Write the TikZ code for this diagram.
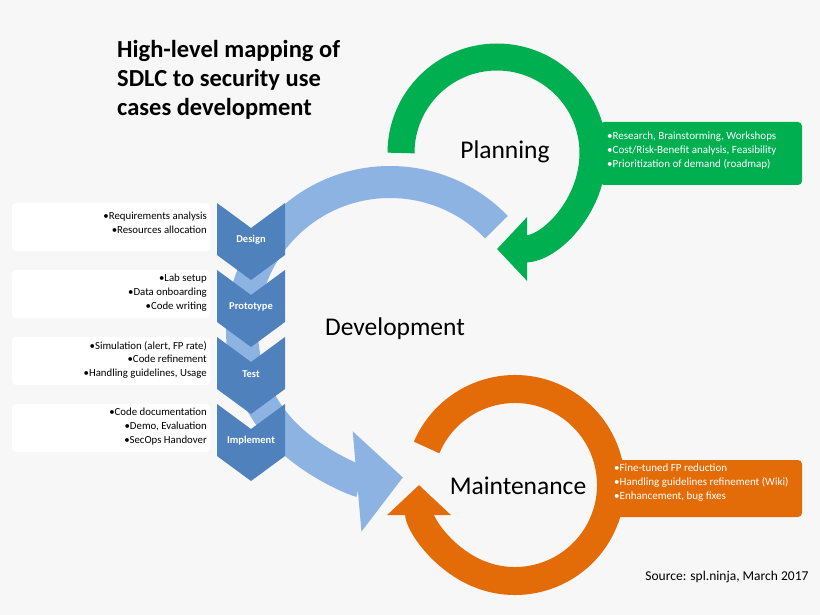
\documentclass[tikz,border=0pt]{standalone}
\usepackage{fontspec}
\setmainfont{Carlito}
\usetikzlibrary{arrows.meta}
\definecolor{bgGray}{HTML}{F7F7F7}
\definecolor{devBlue}{HTML}{8DB3E2}
\definecolor{stepBlue}{HTML}{4F81BD}
\definecolor{planGreen}{HTML}{00B050}
\definecolor{maintOrange}{HTML}{E36C09}
\tikzset{
  ring/.style = {line width=#1},
  note/.style = {rounded corners=4pt, fill=white},
  notetext/.style = {align=right, anchor=north east, font=\fontsize{10.8}{13.8}\selectfont, inner sep=0pt},
  steplabel/.style = {text=white, font=\fontsize{10.5}{12}\selectfont\bfseries},
  cardtext/.style = {align=left, anchor=north west, text=white, font=\fontsize{11}{13.8}\selectfont, inner sep=0pt},
  phase/.style = {font=\fontsize{25.5}{30}\selectfont},
}
\newcommand{\chev}[2]{% top y, name
  \fill[stepBlue] (217,#1) -- (251,#1+25) -- (285,#1) -- (285,#1+52) -- (251,#1+77) -- (217,#1+52) -- cycle;
  \coordinate (#2) at (251,#1+37);
}
\begin{document}
\begin{tikzpicture}[x=1pt,y=-1pt]
\fill[bgGray] (0,0) rectangle (820,615);
\useasboundingbox (0,0) rectangle (820,615);

% development ring
\coordinate (devC) at (390,330);
\draw[devBlue, ring=32, -{Triangle[width=98pt,length=46pt]}]
  (devC) ++(-44:148) arc[start angle=-44, end angle=-275, radius=148];

% steps
\chev{203}{design}
\chev{270}{proto}
\chev{337}{test}
\chev{404}{impl}
\node[steplabel] at (design) {Design};
\node[steplabel] at (proto) {Prototype};
\node[steplabel] at (test) {Test};
\node[steplabel] at (impl) {Implement};

% planning ring
\coordinate (planC) at (497,153);
\draw[planGreen, ring=27, -{Triangle[width=62pt,length=30pt]}]
  (planC) ++(-180:96) arc[start angle=-180, end angle=90, radius=96];
% maintenance ring
\coordinate (maintC) at (515,485);
\draw[maintOrange, ring=28, -{Triangle[width=62pt,length=30pt]}]
  (maintC) ++(-157:96) arc[start angle=-157, end angle=180, radius=96];

% cards
\fill[planGreen, rounded corners=4pt] (600,122) rectangle (802,185);
\node[cardtext] (planCard) at (607,132) {•Research, Brainstorming, Workshops\\•Cost/Risk-Benefit analysis, Feasibility\\•Prioritization of demand (roadmap)};
\fill[maintOrange, rounded corners=4pt] (608,460) rectangle (802,517);
\node[cardtext] (maintCard) at (614,464) {•Fine-tuned FP reduction\\•Handling guidelines refinement (Wiki)\\•Enhancement, bug fixes};

% notes
\fill[note] (12,203) rectangle (210,251);
\node[notetext] (designNote) at (207,212) {•Requirements analysis\\•Resources allocation};
\fill[note] (12,270) rectangle (210,318);
\node[notetext] (protoNote) at (207,274) {•Lab setup\\•Data onboarding\\•Code writing};
\fill[note] (12,337) rectangle (210,385);
\node[notetext] (testNote) at (207,341) {•Simulation (alert, FP rate)\\•Code refinement\\•Handling guidelines, Usage};
\fill[note] (12,404) rectangle (210,452);
\node[notetext] (implNote) at (207,408) {•Code documentation\\•Demo, Evaluation\\•SecOps Handover};

% titles
\node[align=left, anchor=north west, inner sep=0pt, font=\fontsize{24.5}{29}\selectfont\bfseries] (title) at (117,40)
  {High-level mapping of\\SDLC to security use\\cases development};
\node[phase] (planning) at (505,152) {Planning};
\node[phase] (development) at (395,329) {Development};
\node[phase] (maintenance) at (518,486) {Maintenance};
\node[anchor=east, font=\fontsize{13.5}{16}\selectfont] (source) at (812,577) {Source: spl.ninja, March 2017};
\end{tikzpicture}
\end{document}
